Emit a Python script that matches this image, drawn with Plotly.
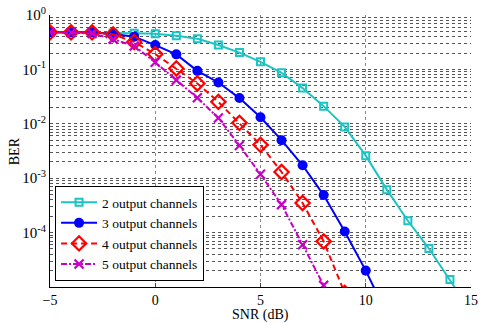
import plotly.graph_objects as go

# SNR points (dB), one per marker
snr_2 = [-5, -4, -3, -2, -1, 0, 1, 2, 3, 4, 5, 6, 7, 8, 9, 10, 11, 12, 13, 14, 15]
ber_2 = [0.48, 0.48, 0.48, 0.466, 0.46, 0.453, 0.416, 0.366, 0.28, 0.204, 0.138, 0.0867,
         0.0453, 0.0211, 0.00877, 0.0026, 6.16e-4, 1.65e-4, 5.1e-5, 1.38e-5, 3.5e-6]

snr_3 = [-5, -4, -3, -2, -1, 0, 1, 2, 3, 4, 5, 6, 7, 8, 9, 10, 11]
ber_3 = [0.48, 0.48, 0.48, 0.447, 0.4, 0.28, 0.189, 0.094, 0.0575, 0.0297, 0.0132, 0.005,
         0.00173, 4.9e-4, 1.05e-4, 2.0e-5, 3.2e-6]

snr_4 = [-5, -4, -3, -2, -1, 0, 1, 2, 3, 4, 5, 6, 7, 8, 9]
ber_4 = [0.48, 0.48, 0.48, 0.44, 0.32, 0.191, 0.104, 0.0552, 0.0253, 0.0104, 0.0041,
         0.0013, 3.5e-4, 6.9e-5, 7.8e-6]

snr_5 = [-5, -4, -3, -2, -1, 0, 1, 2, 3, 4, 5, 6, 7, 8]
ber_5 = [0.48, 0.47, 0.46, 0.36, 0.269, 0.135, 0.0635, 0.030, 0.0128, 0.0040, 0.00118,
         3.27e-4, 6.0e-5, 1.07e-5]

names = ["2 output channels", "3 output channels", "4 output channels", "5 output channels"]

x_ticks = [-5, 0, 5, 10, 15]
decades = [-5, -4, -3, -2, -1, 0]

# gridlines at every 1..9 of each decade, labels only on the powers of ten
y_vals, y_text = [], []
for d in decades:
    for k in range(1, 10):
        if d == 0 and k > 1:
            break
        y_vals.append(k * 10.0 ** d)
        y_text.append(f"10<sup>{d}</sup>" if k == 1 and d > -5 else "")

font = "Liberation Serif, Times New Roman, serif"

fig = go.Figure()
fig.add_trace(go.Scatter(
    x=snr_2, y=ber_2, name=names[0], mode="lines+markers",
    line=dict(color="#1cc4c4", width=2),
    marker=dict(symbol="square-open", size=7, color="#1cc4c4", line=dict(width=2)),
))
fig.add_trace(go.Scatter(
    x=snr_3, y=ber_3, name=names[1], mode="lines+markers",
    line=dict(color="#0000ff", width=2),
    marker=dict(symbol="circle", size=10, color="#0000ff"),
))
fig.add_trace(go.Scatter(
    x=snr_4, y=ber_4, name=names[2], mode="lines+markers",
    line=dict(color="#ff0000", width=2, dash="6px,4px"),
    marker=dict(symbol="diamond-open", size=11, color="#ff0000", line=dict(width=2.2)),
))
fig.add_trace(go.Scatter(
    x=snr_5, y=ber_5, name=names[3], mode="lines+markers",
    line=dict(color="#c800c8", width=2, dash="6px,2px,2px,2px"),
    marker=dict(symbol="x-thin", size=9, color="#c800c8", line=dict(width=2.2, color="#c800c8")),
))

fig.update_layout(
    width=483, height=323,
    margin=dict(l=50, r=12, t=15, b=36),
    paper_bgcolor="white", plot_bgcolor="white",
    font=dict(family=font, size=15, color="black"),
    showlegend=True,
    legend=dict(
        x=0.012, y=0.022, xanchor="left", yanchor="bottom",
        bgcolor="white", bordercolor="black", borderwidth=1,
        font=dict(size=13.5), tracegroupgap=0, itemwidth=36,
    ),
    xaxis=dict(
        range=[-5, 15], tickvals=x_ticks, ticks="inside", ticklen=4,
        showline=True, linecolor="black", linewidth=1, tickfont=dict(size=14),
        showgrid=True, gridcolor="#888888", griddash="3px,3px", gridwidth=1,
        zeroline=False, automargin=False, ticklabeloverflow="allow",
    ),
    yaxis=dict(
        type="log", range=[-5, 0], tickvals=y_vals, ticktext=y_text,
        ticks="", showline=True, linecolor="black", linewidth=1,
        showgrid=True, gridcolor="#555555", griddash="3px,3px", gridwidth=1,
        zeroline=False, automargin=False, ticklabeloverflow="allow",
    ),
    annotations=[
        dict(text="SNR (dB)", xref="paper", yref="paper", x=0.5, y=-0.104,
             xanchor="center", yanchor="middle", showarrow=False, font=dict(size=14)),
        dict(text="BER", xref="paper", yref="paper", x=-0.085, y=0.5, textangle=-90,
             xanchor="center", yanchor="middle", showarrow=False, font=dict(size=14)),
    ],
)

# drop the default page margin so the figure sits at the window's corner
fig.write_html("out.html", config={"displayModeBar": False},
               post_script="document.body.style.margin = '0px';")
